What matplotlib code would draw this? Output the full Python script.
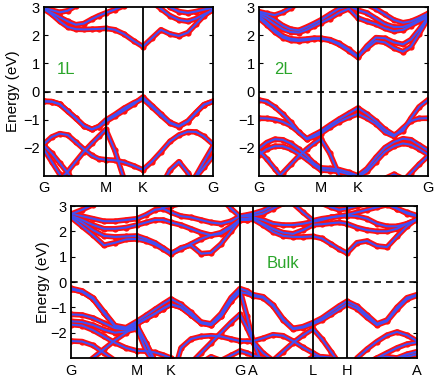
import numpy as np
import matplotlib.pyplot as plt

plt.rcParams['font.family'] = ['Liberation Sans', 'DejaVu Sans']

# k-path (in path-length units) for the monolayer / bilayer panels
k_2d = [0, 8, 16, 24, 32, 40, 48, 55, 62, 71, 80, 90, 99, 108, 117, 126, 135, 144, 152, 160, 169]
ticks_2d = [0, 62, 99, 169]
labels_2d = ['G', 'M', 'K', 'G']

# 1L bands (eV)
bands_1L = [
    [-0.35, -0.36, -0.45, -0.70, -0.95, -1.22, -1.35, -1.25, -1.07, -0.88, -0.68, -0.45, -0.20, -0.50, -0.80, -1.10, -1.23, -1.05, -0.75, -0.47, -0.35],
    [-0.35, -0.36, -0.45, -0.70, -0.95, -1.22, -1.35, -1.25, -1.02, -0.82, -0.60, -0.40, -0.26, -0.55, -0.85, -1.13, -1.25, -1.07, -0.76, -0.47, -0.35],
    [-1.88, -1.62, -1.50, -1.55, -1.80, -2.05, -2.28, -2.40, -2.43, -2.45, -2.52, -2.65, -2.79, -2.50, -2.15, -1.78, -1.55, -1.43, -1.44, -1.60, -1.88],
    [-3.80, -3.50, -3.15, -2.85, -2.50, -2.15, -1.85, -1.60, -1.35, -2.10, -3.10, -3.80, -4.20, -3.90, -3.70, -3.60, -3.60, -3.40, -3.00, -2.50, -1.95],
    [-1.92, -2.20, -2.55, -2.90, -3.30, -3.70, -4.00, -4.00, -4.00, -4.00, -4.00, -4.00, -4.00, -3.90, -3.40, -2.80, -2.50, -2.90, -3.40, -3.80, -4.00],
    [-2.05, -2.50, -2.95, -3.40, -3.80, -4.00, -4.00, -4.00, -4.00, -4.00, -4.00, -4.00, -4.00, -4.00, -4.00, -4.00, -3.80, -3.40, -3.05, -2.70, -2.30],
    [2.95, 2.75, 2.50, 2.30, 2.22, 2.21, 2.22, 2.23, 2.25, 2.20, 2.05, 1.80, 1.60, 1.90, 2.20, 2.05, 1.98, 2.10, 2.40, 2.70, 2.93],
    [2.93, 2.80, 2.65, 2.50, 2.38, 2.42, 2.58, 2.70, 2.80, 2.92, 3.05, 3.20, 3.30, 3.20, 2.95, 2.70, 2.55, 2.50, 2.60, 2.75, 2.90],
    [2.98, 2.90, 2.82, 2.88, 3.05, 3.30, 3.50, 3.50, 3.50, 3.50, 3.50, 3.50, 3.50, 3.50, 3.30, 3.00, 2.85, 2.80, 2.85, 2.92, 2.98],
]

# 2L bands (eV)
bands_2L = [
    [-0.30, -0.36, -0.55, -0.80, -1.10, -1.45, -1.68, -1.55, -1.42, -1.20, -0.99, -0.78, -0.59, -0.80, -1.05, -1.35, -1.55, -1.40, -0.95, -0.55, -0.30],
    [-0.95, -0.96, -1.00, -1.08, -1.22, -1.45, -1.70, -1.62, -1.50, -1.28, -1.08, -0.92, -0.80, -0.95, -1.15, -1.45, -1.60, -1.30, -1.05, -0.96, -0.95],
    [-2.05, -1.82, -1.70, -1.72, -1.85, -2.05, -2.30, -2.55, -2.72, -2.74, -2.78, -2.88, -3.00, -2.75, -2.35, -2.00, -1.80, -1.68, -1.72, -1.90, -2.10],
    [-2.25, -2.05, -1.95, -1.95, -2.05, -2.22, -2.42, -2.62, -2.80, -2.82, -2.85, -2.95, -3.05, -2.85, -2.50, -2.15, -1.95, -1.85, -1.90, -2.05, -2.25],
    [-3.80, -3.50, -3.20, -2.90, -2.60, -2.30, -2.05, -1.85, -1.68, -2.20, -2.95, -3.60, -4.00, -4.00, -4.00, -3.80, -3.50, -3.20, -2.90, -2.60, -2.30],
    [-2.10, -2.40, -2.75, -3.10, -3.50, -3.80, -4.00, -4.00, -4.00, -4.00, -4.00, -4.00, -4.00, -4.00, -3.60, -3.10, -2.95, -3.10, -3.50, -3.80, -4.00],
    [2.70, 2.45, 2.20, 1.98, 1.88, 1.85, 1.87, 1.90, 1.90, 1.85, 1.72, 1.50, 1.25, 1.55, 1.80, 1.75, 1.55, 1.42, 1.60, 2.05, 2.60],
    [2.62, 2.38, 2.12, 1.92, 1.82, 1.80, 1.83, 1.87, 1.88, 1.82, 1.68, 1.45, 1.22, 1.62, 1.92, 1.90, 1.75, 1.68, 1.85, 2.20, 2.65],
    [2.75, 2.60, 2.40, 2.22, 2.12, 2.10, 2.20, 2.33, 2.45, 2.60, 2.80, 2.95, 2.62, 2.50, 2.40, 2.25, 2.15, 2.20, 2.35, 2.50, 2.65],
    [2.80, 2.70, 2.55, 2.35, 2.22, 2.18, 2.30, 2.42, 2.55, 2.75, 2.95, 3.05, 2.90, 2.80, 2.60, 2.40, 2.30, 2.30, 2.40, 2.55, 2.70],
    [2.85, 2.78, 2.72, 2.82, 2.98, 3.15, 3.30, 3.40, 3.40, 3.40, 3.40, 3.30, 3.10, 3.10, 2.95, 2.75, 2.55, 2.45, 2.50, 2.62, 2.78],
]

# bulk k-path G-M-K-G-A-L-H-A
k_bulk = [0, 11, 22, 33, 44, 55, 66, 75, 84, 92, 100, 110, 120, 130, 140, 150, 160, 169,
          176, 182, 192, 202, 212, 222, 232, 242, 251, 260, 268, 276,
          286, 296, 306, 316, 326, 336, 346]
ticks_bulk = [0, 66, 100, 169, 182, 242, 276, 346]
labels_bulk = ['G', 'M', 'K', 'G', 'A', 'L', 'H', 'A']

bands_bulk = [
    [-0.25, -0.35, -0.62, -1.18, -1.72, -1.80, -1.55, -1.32, -1.08, -0.87, -0.67, -0.88, -1.20, -1.58, -1.65, -1.25, -0.62, -0.26,
     -0.35, -0.50, -0.58, -0.90, -1.45, -1.83, -1.76, -1.60, -1.42, -1.17, -0.95, -0.76, -0.95, -1.30, -1.65, -1.50, -1.00, -0.62, -0.50],
    [-0.28, -0.38, -0.66, -1.22, -1.75, -1.84, -1.65, -1.45, -1.25, -1.05, -0.88, -1.00, -1.30, -1.62, -1.70, -1.35, -0.75, -0.32,
     -1.35, -2.35, -3.30, -3.10, -2.75, -2.40, -2.10, -1.85, -2.25, -2.75, -3.20, -3.60, -3.60, -3.30, -3.00, -2.80, -2.60, -2.45, -2.38],
    [-0.28, -0.38, -0.66, -1.22, -1.75, -1.84, -1.65, -1.45, -1.25, -1.05, -0.88, -1.00, -1.30, -1.62, -1.70, -1.35, -0.75, -0.40,
     -0.45, -0.55, -0.62, -0.95, -1.50, -1.86, -1.80, -1.66, -1.50, -1.28, -1.08, -0.88, -1.05, -1.40, -1.70, -1.55, -1.08, -0.68, -0.53],
    [-1.28, -1.30, -1.42, -1.62, -1.82, -1.88, -1.78, -2.40, -3.20, -3.60, -3.90, -3.60, -3.20, -2.80, -2.40, -2.00, -1.60, -1.28,
     -1.80, -2.33, -2.22, -2.08, -2.12, -2.33, -2.58, -2.80, -3.00, -3.30, -3.60, -3.80, -3.00, -2.65, -2.35, -2.10, -1.97, -2.10, -2.33],
    [-1.55, -1.58, -1.70, -1.88, -2.00, -1.95, -1.85, -2.70, -3.30, -3.70, -4.00, -2.60, -2.25, -2.15, -2.12, -2.15, -2.25, -2.33,
     -2.33, -2.35, -2.80, -3.10, -3.30, -3.40, -3.30, -3.20, -3.30, -3.50, -3.70, -3.80, -3.80, -3.60, -3.40, -3.20, -3.00, -2.85, -2.75],
    [-3.70, -3.35, -3.00, -2.65, -2.30, -2.00, -1.72, -2.40, -3.10, -3.60, -4.00, -3.80, -3.50, -3.20, -2.95, -3.10, -2.90, -2.72,
     -2.80, -2.90, -3.00, -3.20, -3.40, -3.50, -3.20, -2.95, -2.95, -2.98, -3.20, -3.40, -3.40, -3.20, -3.00, -2.95, -3.00, -2.95, -2.85],
    [-1.68, -1.72, -1.90, -2.15, -2.40, -2.60, -2.72, -2.73, -2.78, -2.88, -3.00, -3.40, -3.70, -3.90, -4.00, -4.00, -4.00, -4.00,
     -4.00, -4.00, -4.00, -4.00, -4.00, -4.00, -4.00, -4.00, -4.00, -4.00, -4.00, -4.00, -4.00, -4.00, -4.00, -4.00, -4.00, -4.00, -4.00],
    [-2.33, -2.35, -2.50, -2.80, -3.10, -3.40, -3.70, -4.00, -4.00, -4.00, -4.00, -4.00, -4.00, -4.00, -4.00, -4.00, -4.00, -4.00,
     -4.00, -4.00, -4.00, -4.00, -4.00, -4.00, -4.00, -4.00, -4.00, -4.00, -4.00, -4.00, -4.00, -4.00, -4.00, -4.00, -4.00, -4.00, -4.00],
    [2.55, 2.20, 1.85, 1.45, 1.55, 1.68, 1.70, 1.62, 1.48, 1.30, 1.10, 1.35, 1.45, 1.12, 1.15, 1.50, 2.00, 2.45,
     2.45, 2.48, 2.25, 1.98, 1.82, 1.78, 1.78, 1.80, 1.72, 1.50, 1.30, 1.14, 1.55, 1.62, 1.42, 1.38, 1.80, 2.20, 2.50],
    [2.60, 2.35, 2.05, 1.82, 1.78, 1.80, 1.82, 1.70, 1.55, 1.35, 1.14, 1.30, 1.50, 1.70, 1.85, 1.95, 2.20, 2.45,
     2.45, 2.50, 2.30, 2.10, 1.95, 1.90, 2.05, 2.26, 2.28, 2.32, 2.35, 2.30, 2.15, 2.05, 2.00, 2.00, 2.10, 2.30, 2.45],
    [2.62, 2.45, 2.25, 2.10, 2.10, 2.15, 2.25, 2.35, 2.45, 2.45, 2.35, 2.25, 2.10, 1.95, 1.85, 1.90, 2.15, 2.48,
     2.50, 2.55, 2.45, 2.30, 2.25, 2.25, 2.30, 2.38, 2.45, 2.55, 2.60, 2.62, 2.60, 2.50, 2.30, 2.20, 2.20, 2.30, 2.48],
    [2.70, 2.60, 2.50, 2.40, 2.40, 2.45, 2.50, 2.65, 2.85, 2.90, 2.75, 2.60, 2.55, 2.45, 2.35, 2.30, 2.40, 2.60,
     2.65, 2.70, 2.82, 3.02, 3.20, 3.10, 2.75, 2.42, 2.50, 2.55, 2.60, 2.65, 2.75, 2.85, 2.95, 3.05, 2.90, 2.70, 2.60],
    [2.68, 2.85, 3.05, 3.30, 3.50, 3.50, 3.50, 3.30, 3.10, 2.95, 3.00, 3.10, 3.30, 3.50, 3.50, 3.30, 2.90, 2.58,
     2.60, 2.62, 2.70, 2.90, 3.10, 3.30, 3.40, 3.30, 3.10, 2.95, 2.85, 2.90, 3.00, 3.10, 3.20, 3.10, 2.90, 2.75, 2.62],
]

red = '#ff1010'
blue = '#4050f5'
green = '#2aa52a'


def draw_panel(ax, k, bands, ticks, labels):
    for e in bands:
        ax.plot(k, e, color=red, lw=4.0, zorder=2)
        ax.plot(k, e, 'o', color=red, ms=4.5, mew=0, zorder=2)
        ax.plot(k, e, color=blue, lw=1.5, zorder=3)
    for t in ticks[1:-1]:
        ax.axvline(t, color='k', lw=1.3, zorder=4)
    ax.axhline(0, color='k', lw=1.2, ls='--', dashes=(4, 3), zorder=4)
    ax.set_xlim(ticks[0], ticks[-1])
    ax.set_ylim(-3, 3)
    ax.set_yticks([-2, -1, 0, 1, 2, 3])
    ax.set_xticks(ticks)
    ax.set_xticklabels(labels)
    ax.tick_params(axis='x', length=0, pad=4, labelsize=10.5)
    ax.tick_params(axis='y', direction='in', length=3, right=True, labelsize=10.5, pad=3)
    for s in ax.spines.values():
        s.set_linewidth(1.3)
        s.set_zorder(5)


fig = plt.figure(figsize=(4.36, 3.78), dpi=100)
ax1 = fig.add_axes([43.7 / 436, 1 - 175.7 / 378, 169.3 / 436, 168.4 / 378])
ax2 = fig.add_axes([258.7 / 436, 1 - 175.7 / 378, 169.3 / 436, 168.4 / 378])
ax3 = fig.add_axes([71 / 436, 1 - 358 / 378, 346 / 436, 152 / 378])

draw_panel(ax1, k_2d, bands_1L, ticks_2d, labels_2d)
draw_panel(ax2, k_2d, bands_2L, ticks_2d, labels_2d)
draw_panel(ax3, k_bulk, bands_bulk, ticks_bulk, labels_bulk)

ax1.text(22, 0.8, '1L', color=green, fontsize=12, ha='center', va='center')
ax2.text(25, 0.78, '2L', color=green, fontsize=12, ha='center', va='center')
ax3.text(212, 0.74, 'Bulk', color=green, fontsize=12, ha='center', va='center')

ax1.set_ylabel('Energy (eV)', fontsize=11)
ax1.yaxis.set_label_coords(-0.14, 0.5)
ax3.set_ylabel('Energy (eV)', fontsize=11)
ax3.yaxis.set_label_coords(-0.06, 0.5)

fig.savefig('out.png', dpi=100)
